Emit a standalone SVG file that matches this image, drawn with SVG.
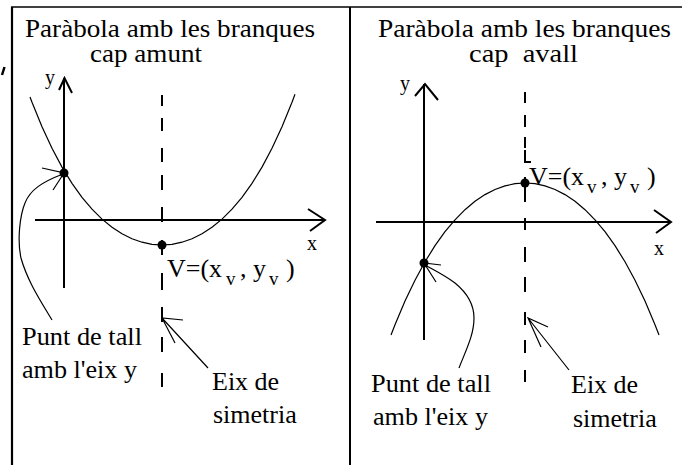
<svg xmlns="http://www.w3.org/2000/svg" width="682" height="465" viewBox="0 0 682 465">
<rect width="682" height="465" fill="#fff"/>
<g id="frame" stroke="#000" fill="none">
<path d="M11,7H682" stroke-width="1.6"/>
<path d="M12,7V465" stroke-width="2.2"/>
<path d="M350,7V465" stroke-width="2"/>
<path d="M4.5,67L2,75" stroke-width="2.5"/>
</g>
<g id="panel-left">
<g font-family="Liberation Serif" font-size="26" fill="#000">
<text font-family="Liberation Serif" font-size="25" x="25" y="37" textLength="290" lengthAdjust="spacingAndGlyphs">Paràbola amb les branques</text>
<text font-family="Liberation Serif" font-size="25" x="90" y="62" textLength="112" lengthAdjust="spacingAndGlyphs">cap amunt</text>
<text font-family="Liberation Serif" font-size="20" x="45" y="84">y</text>
<text font-family="Liberation Serif" font-size="20" x="307" y="250">x</text>
<text font-family="Liberation Serif" font-size="26" y="277"><tspan x="167">V=(x</tspan><tspan x="226" dy="8" font-size="19">v</tspan><tspan x="240" dy="-8">, y</tspan><tspan x="269" dy="8" font-size="19">v</tspan><tspan x="286" dy="-8">)</tspan></text>
<text font-family="Liberation Serif" font-size="26" x="22" y="345" textLength="120" lengthAdjust="spacingAndGlyphs">Punt de tall</text>
<text font-family="Liberation Serif" font-size="26" x="22" y="378" textLength="115" lengthAdjust="spacingAndGlyphs">amb l'eix y</text>
<text font-family="Liberation Serif" font-size="26" x="212" y="390">Eix de</text>
<text font-family="Liberation Serif" font-size="26" x="213" y="423">simetria</text>
</g>
<g stroke="#000" stroke-width="2" fill="none">
<path d="M35,220H325M64,78V288"/>
<path d="M308,209L325,220L310,231M59,90L64.5,78L72,93"/>
<path d="M162,95V106M162,118V131M162,148V162M162,175V190M162,207V222M162,240V255M162,273V290M162,307V322M162,337V352M162,373V387"/>
</g>
<polyline stroke="#000" stroke-width="1.2" fill="none" points="30,97 32,102.3 42,126.8 52,148.3 62,167.1 72,183.3 82,197.3 92,209.2 102,219.1 112,227.3 122,233.8 132,238.8 142,242.2 152,244.3 162,245 172,244.3 182,242.2 192,238.8 202,233.8 212,227.3 222,219.1 232,209.2 242,197.3 252,183.3 262,167.1 272,148.3 282,126.8 292,102.3 295,94.3"/>
<circle cx="64" cy="173" r="4.5"/>
<circle cx="162" cy="245" r="4.5"/>
</g>
<g id="panel-right">
<g font-family="Liberation Serif" font-size="26" fill="#000">
<text font-family="Liberation Serif" font-size="25" x="378" y="37" textLength="293" lengthAdjust="spacingAndGlyphs">Paràbola amb les branques</text>
<text font-family="Liberation Serif" font-size="25" x="469" y="62" xml:space="preserve" textLength="109" lengthAdjust="spacingAndGlyphs">cap  avall</text>
<text font-family="Liberation Serif" font-size="20" x="400" y="90">y</text>
<text font-family="Liberation Serif" font-size="20" x="654" y="255">x</text>
<text font-family="Liberation Serif" font-size="26" y="185"><tspan x="529">V=(x</tspan><tspan x="587" dy="8" font-size="19">v</tspan><tspan x="601" dy="-8">, y</tspan><tspan x="630" dy="8" font-size="19">v</tspan><tspan x="647" dy="-8">)</tspan></text>
<text font-family="Liberation Serif" font-size="26" x="371" y="392" textLength="120" lengthAdjust="spacingAndGlyphs">Punt de tall</text>
<text font-family="Liberation Serif" font-size="26" x="373" y="425" textLength="115" lengthAdjust="spacingAndGlyphs">amb l'eix y</text>
<text font-family="Liberation Serif" font-size="26" x="571" y="393">Eix de</text>
<text font-family="Liberation Serif" font-size="26" x="573" y="427">simetria</text>
</g>
<g stroke="#000" stroke-width="2" fill="none">
<path d="M376,222H671M424,84V340"/>
<path d="M654,210L671,222L656,233M415,96L425,84L438,100"/>
<path d="M525,92V103M525,115V127M525,137V148M525,150V162H531M525,177V202M525,218V230M525,247V262M525,277V292M525,312V325M525,340V353M525,370V382"/>
</g>
<polyline stroke="#000" stroke-width="1.2" fill="none" points="391,335 395,324.8 405,301.1 415,280.2 425,261.8 435,245.7 445,231.7 455,219.8 465,209.7 475,201.3 485,194.6 495,189.5 505,185.9 515,183.7 525,183 535,183.7 545,185.9 555,189.5 565,194.6 575,201.3 585,209.7 595,219.8 605,231.7 615,245.7 625,261.8 635,280.2 645,301.1 655,324.8 659,335"/>
<circle cx="424" cy="263" r="4.5"/>
<circle cx="525" cy="183" r="4.5"/>
</g>
<g id="connectors" stroke="#000" stroke-width="1.2" fill="none">
<path d="M52,320C40,300 27,280 21,258C17,240 20,215 25,203C30,190 42,182 63,174"/>
<path d="M42,168L64,173L53,190"/>
<path d="M208,368L162,318M183,320L162,318L175,343"/>
<path d="M459,368C466,350 474,335 474,318C474,303 466,292 455,283C446,276 436,271 425,265"/>
<path d="M441,265L424,263L436,282"/>
<path d="M569,370L528,318M548,327L528,318L541,347"/>
</g>
</svg>
